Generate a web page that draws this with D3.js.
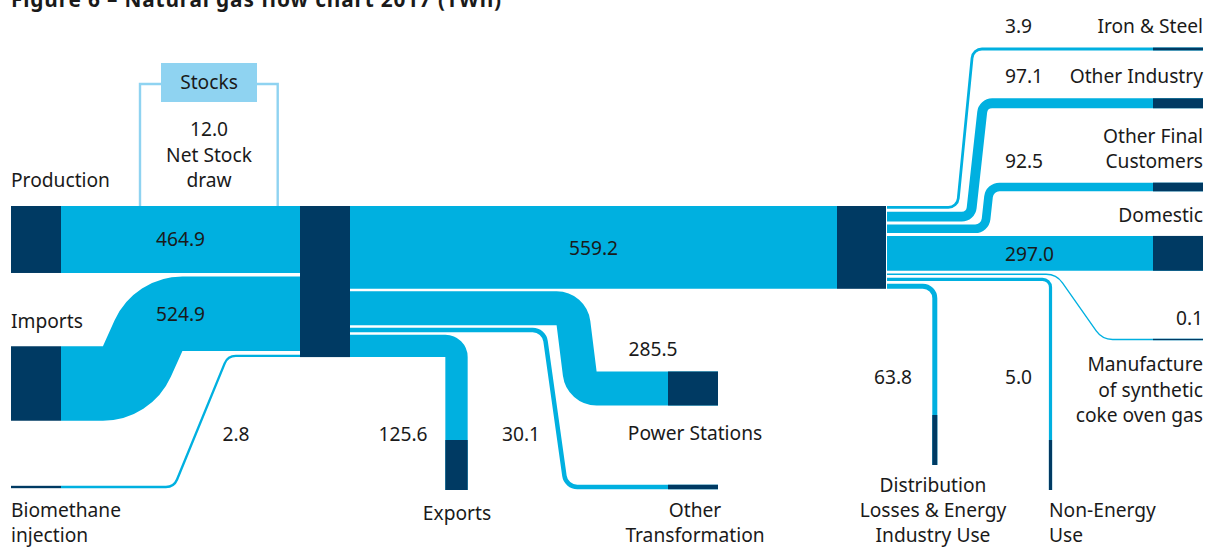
<!DOCTYPE html>
<html>
<head>
<meta charset="utf-8">
<script src="https://cdn.jsdelivr.net/npm/d3@7"></script>
<style>
  html, body { margin: 0; padding: 0; background: #ffffff; }
  svg { display: block; }
  text { font-family: "Noto Sans", "Lato", sans-serif; fill: #1a1a1a; }
</style>
</head>
<body>
<svg id="chart" width="1205" height="548"></svg>
<script>
// ---------------- DATA (TWh, 2017) ----------------
const supplyLabels = ["Production", "Imports", "Biomethane injection"];
const supplyValues = [464.9, 524.9, 2.8];
const stockLabel = "Stocks";
const stockDraw = 12.0;
const hubOutLabels = ["Power Stations", "Other Transformation", "Exports"];
const hubOutValues = [285.5, 30.1, 125.6];
const finalThroughput = 559.2;
const useLabels = ["Iron & Steel", "Other Industry", "Other Final Customers", "Domestic",
  "Manufacture of synthetic coke oven gas", "Non-Energy Use", "Distribution Losses & Energy Industry Use"];
const useValues = [3.9, 97.1, 92.5, 297.0, 0.1, 5.0, 63.8];
const titleText = "Figure 6 \u2013 Natural gas flow chart 2017 (TWh)";

// ---------------- STYLE / LAYOUT ----------------
const FLOW = "#00b0e0", NODE = "#003a63", STOCK = "#8fd3f1";
const FS = 19.2;
const LH = 25;
const svg = d3.select("#chart");

// band thickness scale (the original is not strictly proportional)
const widthScale = d3.scaleLinear()
  .domain([0, 5, 30, 64, 95, 126, 300, 465, 525, 560])
  .range([1.3, 3.2, 4.5, 5, 9, 22.5, 35, 67, 74.5, 83]);

const nodeW = 50;
const colX = { src: 11, hub: 300, hub2: 837, out: 668, right: 1203 };
const topY = 206, minGap = 2.5;

// stack bands along a node side, spread evenly over the node height
function stack(widths, y0, height) {
  const sum = d3.sum(widths);
  const g = widths.length > 1 ? (height - sum) / (widths.length - 1) : 0;
  let y = y0; const centers = [];
  widths.forEach(w => { centers.push(y + w / 2); y += w + g; });
  return centers;
}
function roundedPath(pts, r) {
  const p = d3.path();
  p.moveTo(pts[0][0], pts[0][1]);
  for (let i = 1; i < pts.length - 1; i++) p.arcTo(pts[i][0], pts[i][1], pts[i + 1][0], pts[i + 1][1], r);
  p.lineTo(pts[pts.length - 1][0], pts[pts.length - 1][1]);
  return p.toString();
}

const supplyW = supplyValues.map(widthScale);
const hubOutAll = [finalThroughput, ...hubOutValues];
const hubOutW = hubOutAll.map(widthScale);
const hubH = Math.max(d3.sum(supplyW) + minGap * (supplyW.length - 1), d3.sum(hubOutW) + minGap * (hubOutW.length - 1));
const supplyC = stack(supplyW, topY, hubH);
const hubOutC = stack(hubOutW, topY, hubH);

const useW = useValues.map(widthScale);
const hub2H = Math.max(widthScale(finalThroughput), d3.sum(useW) + minGap * (useW.length - 1));
const useC = stack(useW, topY, hub2H);

const gLinks = svg.append("g"), gNodes = svg.append("g"), gText = svg.append("g");

function link(pts, w, r) {
  gLinks.append("path").attr("d", roundedPath(pts, r)).attr("fill", "none")
    .attr("stroke", FLOW).attr("stroke-width", w).attr("stroke-linecap", "butt");
}
function rect(x, y, w, h, c) {
  gNodes.append("rect").attr("x", x).attr("y", y).attr("width", w).attr("height", h).attr("fill", c || NODE);
}
function label(lines, x, y, anchor, opts) {
  const t = gText.append("text").attr("x", x).attr("y", y).attr("text-anchor", anchor || "start")
    .style("font-size", (opts && opts.size || FS) + "px");
  if (opts && opts.weight) t.style("font-weight", opts.weight);
  if (opts && opts.ls) t.style("letter-spacing", opts.ls + "px");
  const lh = (opts && opts.lh) || LH;
  lines.forEach((s, i) => t.append("tspan").attr("x", x).attr("dy", i ? lh : 0).text(s));
  return t;
}
const fmt = d3.format(".1f");

// ---------- supply side ----------
const supplyRoutes = [
  { cy: null },
  { cy: 383.5, bendX: 127, slope: 0.45 },
  { cy: 487, bendX: 174, slope: 0.41, r: 12 }
];
supplyValues.forEach((v, i) => {
  const w = supplyW[i], rt = supplyRoutes[i], yh = supplyC[i];
  const cy = rt.cy == null ? yh : rt.cy;
  const x0 = colX.src + nodeW;
  let pts;
  if (rt.cy == null) pts = [[x0, cy], [colX.hub, yh]];
  else pts = [[x0, cy], [rt.bendX, cy], [rt.bendX + rt.slope * Math.abs(cy - yh), yh], [colX.hub, yh]];
  link(pts, w, Math.max(w / 2, rt.r || 0));
  rect(colX.src, cy - w / 2, nodeW, w);
});

// ---------- hub outputs ----------
const hubRoutes = [
  { type: "straight" },
  { type: "side", bendX: 571.6, endY: 388.5, slope: 0.125 },
  { type: "side", bendX: 544, endY: 487, slope: 0.14, r: 13 },
  { type: "down", bendX: 456.5, endY: 490 }
];
hubOutAll.forEach((v, i) => {
  const w = hubOutW[i], rt = hubRoutes[i], y0 = hubOutC[i], x0 = colX.hub + nodeW;
  const r = Math.max(w / 2, rt.r || 0);
  if (rt.type === "straight") {
    link([[x0, y0], [colX.hub2, y0]], w, r);
  } else if (rt.type === "side") {
    link([[x0, y0], [rt.bendX, y0], [rt.bendX + rt.slope * Math.abs(rt.endY - y0), rt.endY], [colX.out + nodeW, rt.endY]], w, r);
    rect(colX.out, rt.endY - w / 2, nodeW, w);
  } else {
    link([[x0, y0], [rt.bendX, y0], [rt.bendX, rt.endY]], w, r);
    rect(rt.bendX - w / 2, rt.endY - nodeW, w, nodeW);
  }
});

// ---------- final uses ----------
const useRoutes = [
  { type: "side", bendX: 957.4, endY: 49, slope: 0.098, r: 10 },
  { type: "side", bendX: 970.7, endY: 103.3, slope: 0.11, r: 10 },
  { type: "side", bendX: 985, endY: 187, slope: 0.11, r: 11 },
  { type: "straight" },
  { type: "side", bendX: 1056.5, endY: 339.5, slope: 0.7, r: 20 },
  { type: "down", bendX: 1050.5, endY: 490, r: 8 },
  { type: "down", bendX: 934.8, endY: 465, r: 12 }
];
useValues.forEach((v, i) => {
  const w = useW[i], rt = useRoutes[i], y0 = useC[i], x0 = colX.hub2 + nodeW;
  const r = Math.max(w / 2, rt.r || 0);
  if (rt.type === "straight") {
    link([[x0, y0], [colX.right, y0]], w, r);
    rect(colX.right - nodeW, y0 - w / 2, nodeW, w);
  } else if (rt.type === "side") {
    link([[x0, y0], [rt.bendX, y0], [rt.bendX + rt.slope * Math.abs(rt.endY - y0), rt.endY], [colX.right, rt.endY]], w, r);
    rect(colX.right - nodeW, rt.endY - w / 2, nodeW, w);
  } else {
    link([[x0, y0], [rt.bendX, y0], [rt.bendX, rt.endY]], w, r);
    rect(rt.bendX - w / 2, rt.endY - nodeW, w, nodeW);
  }
});

// hubs
rect(colX.hub, topY, nodeW, hubH);
rect(colX.hub2, topY, 49, hub2H);

// ---------- stocks bracket ----------
const stockBox = { x: 161, y: 63, w: 96, h: 39 };
gNodes.append("path")
  .attr("d", `M${stockBox.x},84 H140 V${topY} M${stockBox.x + stockBox.w},84 H277.7 V${topY}`)
  .attr("fill", "none").attr("stroke", STOCK).attr("stroke-width", 2.4);
rect(stockBox.x, stockBox.y, stockBox.w, stockBox.h, STOCK);
label([stockLabel], stockBox.x + stockBox.w / 2, 89, "middle");
label([fmt(stockDraw), "Net Stock", "draw"], 209, 136, "middle", { lh: 25.5 });

// ---------- title (cropped at the top edge, as in the original) ----------
label([titleText], 11, 7, "start", { size: 20.8, weight: "bold", ls: 0.85 });

// ---------- labels ----------
const midSrc = (colX.src + nodeW + colX.hub) / 2;
label([supplyLabels[0]], 11, 187, "start");
label([supplyLabels[1]], 11, 328, "start");
label(["Biomethane", "injection"], 11, 516.5, "start");
label([fmt(supplyValues[0])], midSrc, supplyC[0] + 7, "middle");
label([fmt(supplyValues[1])], midSrc, supplyC[1] + 7, "middle");
label([fmt(supplyValues[2])], 236, 441, "middle");

label([fmt(finalThroughput)], (colX.hub + nodeW + colX.hub2) / 2, hubOutC[0] + 8, "middle");
label([fmt(hubOutValues[0])], 653, 356, "middle");
label([hubOutLabels[0]], colX.out + 27, 440, "middle");
label([fmt(hubOutValues[1])], 521, 441, "middle");
label(["Other", "Transformation"], colX.out + 27, 516.5, "middle");
label([fmt(hubOutValues[2])], 403, 441, "middle");
label([hubOutLabels[2]], 457, 520, "middle");

const vx = 1005, rx = colX.right;
label([fmt(useValues[0])], vx, 33, "start");
label([useLabels[0]], rx, 33, "end");
label([fmt(useValues[1])], vx, 83, "start");
label([useLabels[1]], rx, 83, "end");
label(["Other Final", "Customers"], rx, 142.5, "end");
label([fmt(useValues[2])], vx, 168, "start");
label([useLabels[3]], rx, 222, "end");
label([fmt(useValues[3])], vx, useC[3] + 8, "start");
label([fmt(useValues[4])], rx, 325, "end");
label(["Manufacture", "of synthetic", "coke oven gas"], rx, 371, "end", { lh: 25.5 });
label([fmt(useValues[5])], vx, 384, "start");
label(["Non-Energy", "Use"], 1049, 516.5, "start");
label([fmt(useValues[6])], 893, 384, "middle");
label(["Distribution", "Losses & Energy", "Industry Use"], 933, 491.5, "middle");
</script>
</body>
</html>
